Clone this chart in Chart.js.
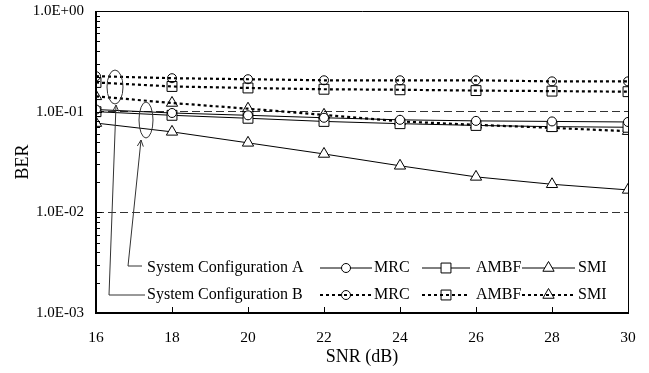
<!DOCTYPE html>
<html>
<head>
<meta charset="utf-8">
<script src="https://cdn.jsdelivr.net/npm/chart.js@4/dist/chart.umd.min.js"></script>
<style>
  html, body { margin: 0; padding: 0; background: #fff; }
  #wrap { width: 649px; height: 373px; }
</style>
</head>
<body>
<div id="wrap"><canvas id="grafico" width="649" height="373"></canvas></div>
<script>
// dados
const snr = [16, 18, 20, 22, 24, 26, 28, 30];
const mrcA = [0.105, 0.097, 0.092, 0.087, 0.083, 0.081, 0.080, 0.079];
const ambfA = [0.100, 0.092, 0.086, 0.080, 0.076, 0.073, 0.071, 0.070];
const smiA = [0.077, 0.063, 0.049, 0.038, 0.029, 0.0225, 0.019, 0.0167];
const mrcB = [0.225, 0.215, 0.210, 0.205, 0.205, 0.205, 0.200, 0.200];
const ambfB = [0.195, 0.178, 0.172, 0.167, 0.165, 0.162, 0.160, 0.158];
const smiB = [0.142, 0.122, 0.107, 0.093, 0.080, 0.074, 0.069, 0.064];
const decadas = [0.001, 0.01, 0.1, 1];

const fonte = 'Liberation Serif, Times New Roman, serif';
const raios = { circle: 4.5, rect: 7, triangle: 6.5 };

function serie(dados, estilo, pontilhada) {
    return {
        data: snr.map((x, i) => ({ x: x, y: dados[i] })),
        borderColor: '#000',
        borderWidth: pontilhada ? 2.2 : 1,
        borderDash: pontilhada ? [3, 3] : [],
        pointStyle: estilo,
        pointRadius: raios[estilo],
        pointBorderWidth: 1,
        pointBorderColor: '#000',
        pointBackgroundColor: pontilhada ? 'rgba(0,0,0,0)' : '#fff',
        tension: 0
    };
}

function formataExp(v) {
    const e = Math.round(Math.log10(v));
    const sinal = e < 0 ? '-' : '+';
    return '1.0E' + sinal + String(Math.abs(e)).padStart(2, '0');
}

// desenha moldura, marcas internas, legenda e chamadas
const extras = {
    id: 'extras',
    afterDraw(chart) {
        const ctx = chart.ctx;
        const a = chart.chartArea;
        const xs = chart.scales.x;
        const ys = chart.scales.y;
        ctx.save();
        ctx.strokeStyle = '#000';
        // moldura
        ctx.lineWidth = 1;
        ctx.beginPath();
        ctx.moveTo(a.left, a.top + 0.5);
        ctx.lineTo(a.right + 0.5, a.top + 0.5);
        ctx.lineTo(a.right + 0.5, a.bottom);
        ctx.stroke();
        ctx.lineWidth = 2;
        ctx.beginPath();
        ctx.moveTo(a.left, a.top);
        ctx.lineTo(a.left, a.bottom);
        ctx.lineTo(a.right + 1, a.bottom);
        ctx.stroke();
        // marcas do eixo y
        ctx.lineWidth = 1;
        ctx.beginPath();
        for (let d = 0.001; d < 1.5; d *= 10) {
            for (let m = 1; m <= 9; m++) {
                const v = d * m;
                if (v > 1.0001) break;
                const py = Math.round(ys.getPixelForValue(v)) + 0.5;
                const len = m === 1 ? 6 : 4;
                ctx.moveTo(a.left, py);
                ctx.lineTo(a.left + len, py);
            }
        }
        // marcas do eixo x
        snr.forEach(x => {
            const px = Math.round(xs.getPixelForValue(x)) + 0.5;
            ctx.moveTo(px, a.bottom);
            ctx.lineTo(px, a.bottom - 6);
        });
        ctx.stroke();

        // chamadas (elipses e setas)
        ctx.strokeStyle = '#333';
        ctx.lineWidth = 1;
        ctx.beginPath();
        ctx.ellipse(a.left + 50, a.top + 109, 7, 18, 0, 0, Math.PI * 2);
        ctx.stroke();
        ctx.beginPath();
        ctx.ellipse(a.left + 19, a.top + 76, 8, 17, 0, 0, Math.PI * 2);
        ctx.stroke();

        function seta(x0, y0, xq, x1, y1) {
            ctx.beginPath();
            ctx.moveTo(x0, y0);
            ctx.lineTo(xq, y0);
            ctx.lineTo(x1, y1);
            ctx.stroke();
            const ang = Math.atan2(y1 - y0, x1 - xq);
            ctx.beginPath();
            ctx.moveTo(x1 + Math.cos(ang + 2.7) * 7, y1 + Math.sin(ang + 2.7) * 7);
            ctx.lineTo(x1, y1);
            ctx.lineTo(x1 + Math.cos(ang - 2.7) * 7, y1 + Math.sin(ang - 2.7) * 7);
            ctx.stroke();
        }
        seta(a.left + 46, a.top + 255, a.left + 32, a.left + 45, a.top + 129);
        seta(a.left + 49, a.top + 284, a.left + 13, a.left + 20, a.top + 94);

        // legenda
        ctx.font = '16px ' + fonte;
        ctx.fillStyle = '#000';
        ctx.textBaseline = 'middle';
        const linhas = [
            { rotulo: 'System Configuration A', y: a.top + 257, pont: false },
            { rotulo: 'System Configuration B', y: a.top + 284, pont: true }
        ];
        const itens = [
            { nome: 'MRC', estilo: 'circle', x1: 224, x2: 276, tx: 278 },
            { nome: 'AMBF', estilo: 'rect', x1: 326, x2: 374, tx: 380 },
            { nome: 'SMI', estilo: 'triangle', x1: 426, x2: 479, tx: 482 }
        ];
        linhas.forEach(l => {
            ctx.fillText(l.rotulo, a.left + 51, l.y);
            itens.forEach(it => {
                ctx.save();
                ctx.strokeStyle = '#000';
                ctx.lineWidth = l.pont ? 2.2 : 1;
                ctx.setLineDash(l.pont ? [3, 3] : []);
                ctx.beginPath();
                ctx.moveTo(a.left + it.x1, l.y);
                ctx.lineTo(a.left + it.x2, l.y);
                ctx.stroke();
                ctx.restore();
                const mx = a.left + (it.x1 + it.x2) / 2;
                ctx.save();
                ctx.setLineDash([]);
                ctx.strokeStyle = '#000';
                ctx.lineWidth = 1;
                ctx.fillStyle = l.pont ? 'rgba(0,0,0,0)' : '#fff';
                Chart.helpers.drawPoint(ctx, { pointStyle: it.estilo, radius: raios[it.estilo], rotation: 0, borderWidth: 1 }, mx, l.y);
                ctx.restore();
                ctx.fillText(it.nome, a.left + it.tx, l.y);
            });
        });
        ctx.restore();
    }
};

new Chart(document.getElementById('grafico'), {
    type: 'line',
    data: {
        datasets: [
            serie(mrcA, 'circle', false),
            serie(ambfA, 'rect', false),
            serie(smiA, 'triangle', false),
            serie(mrcB, 'circle', true),
            serie(ambfB, 'rect', true),
            serie(smiB, 'triangle', true)
        ]
    },
    options: {
        responsive: false,
        animation: false,
        layout: { padding: { top: 11, right: 21, left: 0, bottom: 0 } },
        plugins: { legend: { display: false }, tooltip: { enabled: false } },
        scales: {
            x: {
                type: 'linear',
                min: 16,
                max: 30,
                afterBuildTicks: s => { s.ticks = snr.map(v => ({ value: v })); },
                afterFit: s => { s.height = 60; s.paddingLeft = 0; s.paddingRight = 0; },
                ticks: { color: '#000', font: { family: fonte, size: 15.5 }, padding: 8 },
                grid: { display: false },
                border: { display: false },
                title: { display: true, text: 'SNR (dB)', color: '#000', font: { family: fonte, size: 18 }, padding: { top: 0, bottom: 5 } }
            },
            y: {
                type: 'logarithmic',
                min: 0.001,
                max: 1,
                afterBuildTicks: s => { s.ticks = decadas.map(v => ({ value: v })); },
                afterFit: s => { s.width = 96; s.paddingTop = 0; s.paddingBottom = 0; },
                ticks: { color: '#000', font: { family: fonte, size: 15 }, padding: 12, callback: v => formataExp(v) },
                grid: {
                    drawTicks: false,
                    lineWidth: 1,
                    color: c => (c.tick && (Math.abs(c.tick.value - 0.1) < 1e-9 || Math.abs(c.tick.value - 0.01) < 1e-9)) ? '#333' : 'rgba(0,0,0,0)'
                },
                border: { display: false, dash: [8, 4] },
                title: { display: true, text: 'BER', color: '#000', font: { family: fonte, size: 18 }, padding: { top: 12, bottom: 0 } }
            }
        }
    },
    plugins: [extras]
});
</script>
</body>
</html>
